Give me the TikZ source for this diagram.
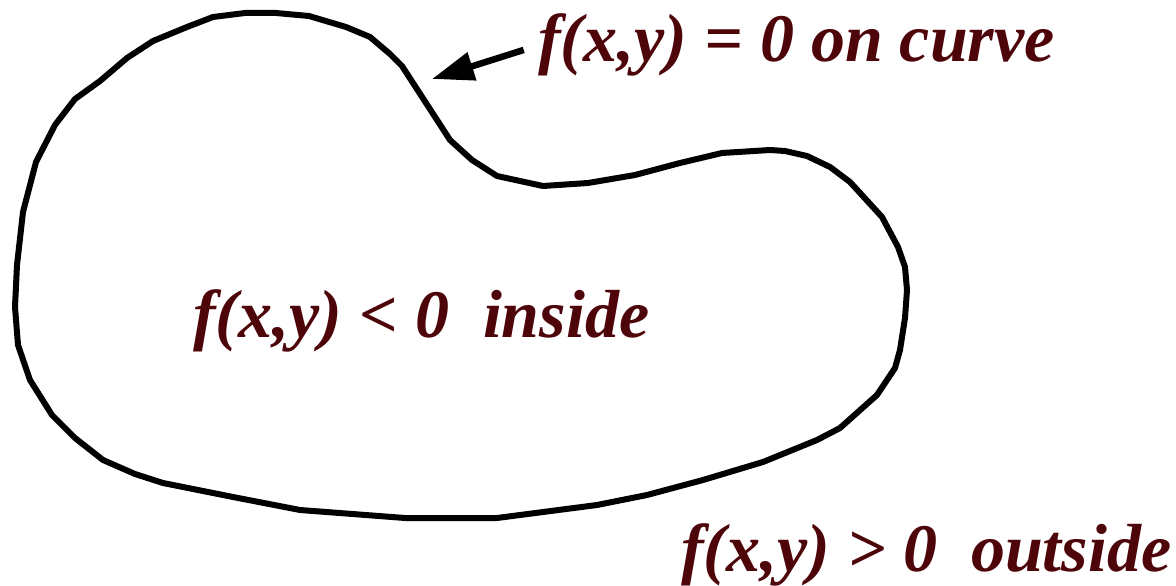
\documentclass[tikz,border=0pt]{standalone}
\usepackage{fontspec}
\setmainfont{Liberation Serif}
\usetikzlibrary{arrows.meta}
\definecolor{maroon}{RGB}{78,5,10}
\tikzset{
  lbl/.style={inner sep=0pt, anchor=base west, text=maroon, font=\fontsize{68}{74}\selectfont\bfseries\itshape},
  outline/.style={line width=6pt, line join=round, draw=black},
  pointer/.style={line width=6.5pt, -{Triangle[length=42pt,width=28pt]}}
}
\begin{document}
\begin{tikzpicture}[x=1pt,y=-1pt]
\useasboundingbox (0,0) rectangle (1176,586);
\draw[outline] (245,13) -- (276,13) -- (309,16) -- (346,27) -- (370,37) -- (390,54) -- (402,66)
  -- (450,140) -- (472,160) -- (497,176) -- (543,186) -- (588,183) -- (635,175) -- (680,163)
  -- (722,153) -- (770,150) -- (785,151) -- (807,156) -- (830,167) -- (850,182) -- (882,217)
  -- (898,247) -- (905,267) -- (907,290) -- (905,318) -- (900,350) -- (895,368) -- (877,395)
  -- (840,428) -- (817,440) -- (763,462) -- (703,480) -- (647,495) -- (597,505) -- (497,518)
  -- (405,518) -- (300,510) -- (233,497) -- (163,483) -- (135,474) -- (103,460) -- (75,438)
  -- (52,415) -- (30,380) -- (18,345) -- (15,307) -- (17,265) -- (23,212) -- (36,162)
  -- (55,125) -- (75,99) -- (100,81) -- (127,58) -- (153,41) -- (187,27) -- (213,17) -- cycle;
\node[lbl] (on) at (538,62) {f(x,y) = 0 on curve};
\node[lbl] (in) at (193,337) {f(x,y) < 0\hspace{0.5em}inside};
\node[lbl] (out) at (681,571) {f(x,y) > 0\hspace{0.5em}outside};
\coordinate (tip) at (432,79);
\draw[pointer, shorten <=15pt] (on.west) -- (tip);
\end{tikzpicture}
\end{document}
